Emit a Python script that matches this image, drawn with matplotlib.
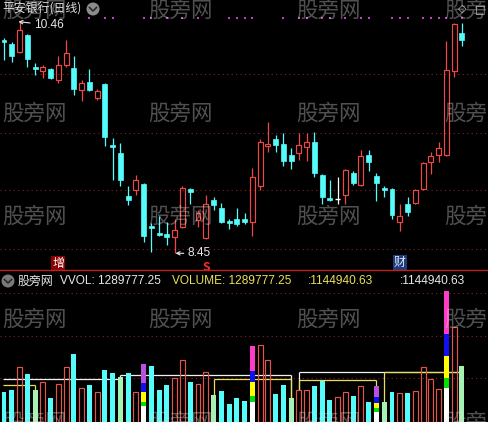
import matplotlib
matplotlib.use("Agg")
import matplotlib.pyplot as plt
from matplotlib.patches import Rectangle, Ellipse
from matplotlib.lines import Line2D

plt.rcParams['font.family'] = ['Liberation Sans', 'Noto Sans CJK SC', 'DejaVu Sans']
CJK = ['Noto Sans CJK SC', 'DejaVu Sans']

# ---- daily bars: 平安银行 ----
opens = [10.30, 10.27, 10.20, 10.34, 10.07, 10.03, 10.05, 9.95, 10.08, 10.06,
         9.87, 9.94, 9.80, 9.92, 9.39, 9.32, 8.95, 9.00, 9.05, 8.69,
         8.63, 8.62, 8.59, 8.68, 9.01, 8.74, 8.58, 8.91, 8.84, 8.73,
         8.75, 8.75, 8.72, 9.03, 9.38, 9.44, 9.40, 9.30, 9.32, 9.37,
         9.42, 9.13, 8.93, 8.92, 8.96, 9.15, 9.04, 9.30, 9.12, 9.02,
         9.01, 8.72, 8.88, 8.89, 9.01, 9.24, 9.30, 9.30, 10.03, 10.36]
highs = [10.32, 10.28, 10.46, 10.35, 10.10, 10.08, 10.06, 10.16, 10.30, 10.16,
         9.95, 10.05, 9.88, 9.93, 9.45, 9.41, 9.03, 9.13, 9.06, 8.71,
         8.77, 8.72, 8.75, 9.03, 9.02, 8.83, 8.96, 8.94, 8.89, 8.75,
         8.84, 8.80, 9.19, 9.44, 9.59, 9.48, 9.49, 9.36, 9.49, 9.49,
         9.50, 9.14, 9.09, 9.11, 9.18, 9.16, 9.35, 9.35, 9.15, 9.03,
         9.02, 8.88, 8.94, 9.01, 9.24, 9.33, 9.42, 10.29, 10.45, 10.45]
lows = [10.13, 10.11, 10.19, 10.07, 10.00, 9.97, 9.96, 9.93, 10.07, 9.82,
        9.77, 9.86, 9.78, 9.38, 9.09, 9.03, 8.87, 8.96, 8.55, 8.46,
        8.60, 8.52, 8.45, 8.67, 8.88, 8.68, 8.57, 8.83, 8.71, 8.66,
        8.69, 8.70, 8.60, 9.00, 9.33, 9.33, 9.21, 9.18, 9.26, 9.25,
        9.11, 8.88, 8.90, 8.88, 8.88, 9.04, 9.03, 9.16, 8.90, 8.94,
        8.75, 8.64, 8.77, 8.88, 9.00, 9.14, 9.24, 9.29, 9.98, 10.25]
closes = [10.28, 10.16, 10.39, 10.14, 10.05, 10.07, 9.97, 10.08, 10.19, 9.88,
          9.93, 9.87, 9.86, 9.46, 9.37, 9.09, 8.91, 9.09, 8.60, 8.67,
          8.61, 8.59, 8.65, 9.02, 8.98, 8.80, 8.88, 8.87, 8.72, 8.71,
          8.70, 8.72, 9.11, 9.42, 9.40, 9.39, 9.25, 9.25, 9.39, 9.42,
          9.15, 8.94, 8.91, 8.92, 9.17, 9.06, 9.29, 9.24, 9.06, 9.00,
          8.78, 8.77, 8.81, 9.00, 9.23, 9.29, 9.36, 10.04, 10.44, 10.30]
volumes = [697000, 736000, 1258000, 1104000, 736000, 913000, 545000, 874000, 1258000, 1564000,
           775000, 851000, 683000, 1196000, 1134000, 1042000, 1120000, 683000, 1334000, 1288000,
           736000, 851000, 1005000, 1426000, 927000, 874000, 1143000, 621000, 713000, 414000,
           559000, 483000, 1748000, 1771000, 1426000, 644000, 851000, 552000, 736000, 736000,
           835000, 950000, 506000, 568000, 697000, 598000, 828000, 467000, 828000, 467000,
           697000, 674000, 674000, 713000, 1265000, 989000, 759000, 3013000, 2192000, 1289777.25]

# bars that end a reference window (drawn pale green)
pale_idx = [4, 15, 27, 37, 49, 59]
# stacked volume bars: cumulative segment tops
stack_idx = [18, 32, 48, 57]
stack_white = [368000, 467000, 237000, 789000]
stack_green = [467000, 598000, 315000, 1019000]
stack_yellow = [697000, 913000, 444000, 1525000]
stack_blue = [890000, 1173000, 582000, 2024000]
stack_top_colors = ['#b850e0', '#ff3cc8', '#b850e0', '#ff3cc8']

# reference volume levels (start bar, end bar, level)
white_start = [0, 15, 38]
white_end = [15, 37, 59]
white_level = [982000, 1081000, 1144940.63]
yellow_start = [0, 27, 38, 49]
yellow_end = [4, 37, 48, 59]
yellow_level = [851000, 982000, 966000, 1144940.63]

# signal dots along the top and text signals below the price
dot_idx = [11, 13, 14, 18, 19, 21, 23, 25, 29, 30, 31, 32, 36, 38, 39, 41, 42, 44,
           46, 47, 50, 51, 52, 54, 55, 56, 57, 59]
signal_idx = [7, 26, 51]
signal_text = ['增', 'S', '财']

title_text = '平安银行(日线)'
high_value = 10.46
high_idx = 2
low_value = 8.45
low_idx = 22
vvol_value = 1289777.25
ref_value = 1144940.63

# ---- layout ----
W, H = 488, 422
STEP = 7.76
X0 = 4.0
xlim = (-X0 / STEP, (W - X0) / STEP)

RED = '#f04848'
CYAN = '#54fcfc'
VRED = '#e0564c'
PALE = '#a6f2b4'
YEL = '#e8e05a'
WHITE = '#f0f0f0'
GRID = '#8a2222'

fig = plt.figure(figsize=(W / 100, H / 100), dpi=100, facecolor='black')
ax_p = fig.add_axes([0, 152 / H, 1, 270 / H])
ax_v = fig.add_axes([0, 0, 1, 151 / H])
for ax in (ax_p, ax_v):
    ax.set_facecolor('black')
    ax.set_axis_off()
    ax.set_xlim(*xlim)

ax_p.set_ylim(8.305, 10.648)
ax_v.set_ylim(0, 3473000)

for g in [10.01, 9.49, 9.00, 8.49]:
    ax_p.axhline(g, color=GRID, lw=0.8, ls=(0, (1, 3)), zorder=0)
for g in [1.01e6, 1.98e6, 2.97e6]:
    ax_v.axhline(g, color=GRID, lw=0.8, ls=(0, (1, 3)), zorder=0)

# ---- candles ----
bw = 0.64
for i, (o, h, l, c) in enumerate(zip(opens, highs, lows, closes)):
    if c > o:
        ax_p.vlines(i, c, h, color=RED, lw=0.9, zorder=2)
        ax_p.vlines(i, l, o, color=RED, lw=0.9, zorder=2)
        ax_p.add_patch(Rectangle((i - bw / 2, o), bw, c - o, fill=False,
                                 ec=RED, lw=0.85, zorder=3))
    elif c < o:
        ax_p.vlines(i, l, h, color=CYAN, lw=0.9, zorder=2)
        ax_p.add_patch(Rectangle((i - bw / 2, c), bw, o - c, fc=CYAN,
                                 ec=CYAN, lw=0.5, zorder=3))
    else:
        ax_p.vlines(i, l, h, color='white', lw=0.9, zorder=2)
        ax_p.hlines(o, i - bw / 2, i + bw / 2, color='white', lw=1.0, zorder=3)

ax_p.scatter(dot_idx, [10.492] * len(dot_idx), s=2.2, marker='s',
             color='#c040c8', lw=0, zorder=2)

txt_kw = dict(fontsize=8.6, color='#e8e8e8', va='center', ha='left')
ax_p.annotate(f'{high_value:.2f}', xy=(high_idx - 0.15, high_value),
              xytext=(3.9, 10.43), zorder=5,
              arrowprops=dict(arrowstyle='->', color='#e8e8e8', lw=0.8,
                              shrinkA=1, shrinkB=0, mutation_scale=6), **txt_kw)
ax_p.annotate(f'{low_value:.2f}', xy=(low_idx + 0.1, low_value),
              xytext=(23.7, low_value), zorder=5,
              arrowprops=dict(arrowstyle='->', color='#e8e8e8', lw=0.8,
                              shrinkA=1, shrinkB=0, mutation_scale=6), **txt_kw)

sig_style = {
    '增': dict(y=8.361, color='white', bbox=dict(boxstyle='square,pad=0.08', fc='#8b0000', ec='none')),
    'S': dict(y=8.33, color='#ff2a2a', bbox=None),
    '财': dict(y=8.370, color='#dbeaff', bbox=dict(boxstyle='square,pad=0.08', fc='#1f3c78', ec='none')),
}
for i, s in zip(signal_idx, signal_text):
    st = sig_style[s]
    ax_p.text(i, st['y'], s, ha='center', va='center', fontsize=8.6, family=CJK,
              color=st['color'], bbox=st['bbox'], fontweight='bold' if s == 'S' else 'normal',
              zorder=6, clip_on=True)

# ---- volume ----
for seg_s, seg_e, lev, col in [(white_start, white_end, white_level, WHITE),
                               (yellow_start, yellow_end, yellow_level, YEL)]:
    for a, b, v in zip(seg_s, seg_e, lev):
        xa = a if a > 0 else -0.15
        ax_v.hlines(v, xa, b, color=col, lw=0.9, zorder=1)
        for k in ([a, b] if a > 0 else [b]):
            if volumes[k] < v:
                ax_v.vlines(k, volumes[k], v, color=col, lw=0.9, zorder=1)

for i, v in enumerate(volumes):
    if i in stack_idx:
        j = stack_idx.index(i)
        bounds = [0, stack_white[j], stack_green[j], stack_yellow[j], stack_blue[j], v]
        cols = ['#ffffff', '#00e000', '#ffff00', '#1010f0', stack_top_colors[j]]
        for (lo, hi), cc in zip(zip(bounds[:-1], bounds[1:]), cols):
            ax_v.add_patch(Rectangle((i - bw / 2, lo), bw, hi - lo, fc=cc, ec='none', zorder=3))
    elif i in pale_idx:
        ax_v.add_patch(Rectangle((i - bw / 2, 0), bw, v, fc=PALE, ec='none', zorder=3))
    elif closes[i] >= opens[i]:
        ax_v.add_patch(Rectangle((i - bw / 2, 0), bw, v, fill=False, ec=VRED, lw=0.85, zorder=3))
    else:
        ax_v.add_patch(Rectangle((i - bw / 2, 0), bw, v, fc=CYAN, ec='none', zorder=3))


# ---- figure-level decorations ----
def fx(px):
    return px / W


def fy(py):
    return 1 - py / H


fig.add_artist(Line2D([0, 1], [fy(270), fy(270)], color='#c02020', lw=1.0, zorder=4))

for wy in [11, 114, 217, 320, 423]:
    for wx in [2, 148, 296, 444]:
        fig.text(fx(wx), fy(wy), '股旁网', family=CJK, fontsize=15.5, color='#e0e0e0',
                 alpha=0.36, ha='left', va='center', zorder=1)

fig.text(fx(2), fy(9), title_text, family=CJK, fontsize=8.6, color='#e0e0e0',
         ha='left', va='center', zorder=5)


def chevron_icon(cx, cy, fc):
    fig.add_artist(Ellipse((fx(cx), fy(cy)), 13 / W, 13 / H, fc=fc, ec='none', zorder=5))
    fig.add_artist(Line2D([fx(cx - 3.5), fx(cx), fx(cx + 3.5)],
                          [fy(cy - 1.5), fy(cy + 2), fy(cy - 1.5)],
                          color='#2a2a2a', lw=1.2, zorder=6))


chevron_icon(93, 9, '#8c8c8c')
chevron_icon(8, 281, '#7a7a7a')

fig.text(fx(458), fy(9), '◇', family=['DejaVu Sans'], fontsize=8, color='#c8c8c8',
         ha='left', va='center', zorder=5)
fig.text(fx(475), fy(9), '□', family=['DejaVu Sans'], fontsize=8, color='#c8c8c8',
         ha='left', va='center', zorder=5)

row_y = fy(281)
fig.text(fx(18), row_y, '股旁网', family=CJK, fontsize=8.6, color='#e8e8e8', va='center', zorder=5)
fig.text(fx(60), row_y, f'VVOL: {vvol_value:.2f}', fontsize=8.6, color='#e8e8e8', va='center', zorder=5)
fig.text(fx(172), row_y, f'VOLUME: {vvol_value:.2f}', fontsize=8.6, color=YEL, va='center', zorder=5)
fig.text(fx(308), row_y, f':{ref_value:.2f}', fontsize=8.6, color=YEL, va='center', zorder=5)
fig.text(fx(400), row_y, f':{ref_value:.2f}', fontsize=8.6, color='#e8e8e8', va='center', zorder=5)

fig.savefig('out.png', dpi=100, facecolor='black')
